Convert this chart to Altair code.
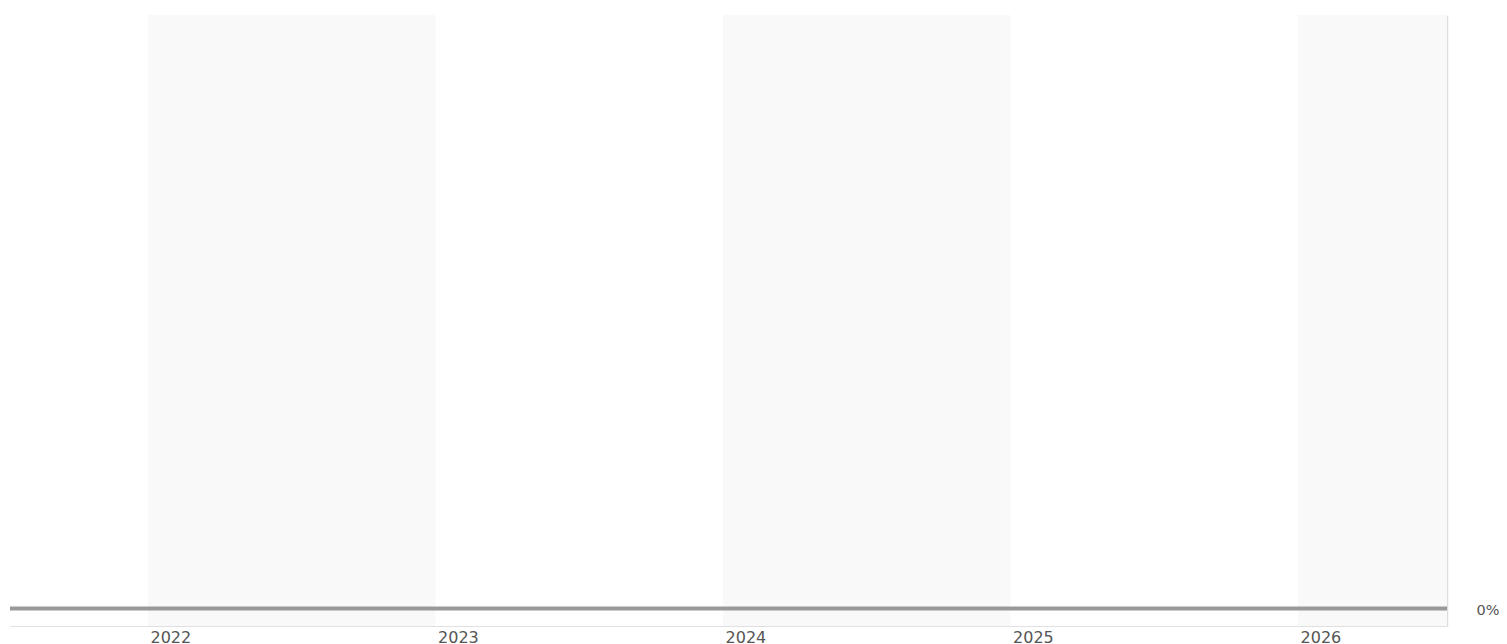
import altair as alt
import pandas as pd

# Data
band_start = [2022, 2024, 2026]
band_end = [2023, 2025, 2027]
line_years = [2021.5, 2022, 2023, 2024, 2025, 2026, 2026.6]
line_values = [0, 0, 0, 0, 0, 0, 0]
tick_years = [2022, 2023, 2024, 2025, 2026]

bands = pd.DataFrame({"start": band_start, "end": band_end})
line_df = pd.DataFrame({"year": line_years, "value": line_values})

x_scale = alt.Scale(domain=[2021.52, 2026.518], nice=False, zero=False)
y_scale = alt.Scale(domain=[-0.0295, 1], nice=False, zero=False)

FONT = "DejaVu Sans"

band_layer = alt.Chart(bands).mark_rect(color="#f9f9f9", clip=True).encode(
    x=alt.X("start:Q", scale=x_scale,
            axis=alt.Axis(values=tick_years, format="d", title=None, grid=False,
                          ticks=False, labelAlign="left", labelOffset=2,
                          labelPadding=3, labelFontSize=16, labelFont=FONT,
                          labelColor="#555", domainColor="#e0e0e0",
                          labelBaseline="top", labelFlush=False)),
    x2="end:Q",
    y=alt.value(0),
    y2=alt.value(611),
)

line_layer = alt.Chart(line_df).mark_line(color="#999", strokeWidth=4, clip=True).encode(
    x=alt.X("year:Q", scale=x_scale),
    y=alt.Y("value:Q", scale=y_scale,
            axis=alt.Axis(orient="right", values=[0], format=".0%", title=None,
                          grid=False, ticks=False, labelPadding=29, labelOffset=2,
                          labelFontSize=14.5, labelFont=FONT, labelColor="#555",
                          domainColor="#dddddd", domainWidth=1.5)),
)

chart = alt.layer(band_layer, line_layer).properties(
    width=1437,
    height=611,
    padding={"left": 2, "top": 7, "right": 52, "bottom": 17},
    autosize=alt.AutoSizeParams(type="none"),
).configure(background="white").configure_view(strokeWidth=0)

chart.save("out.html", embed_options={"renderer": "svg", "actions": False})
